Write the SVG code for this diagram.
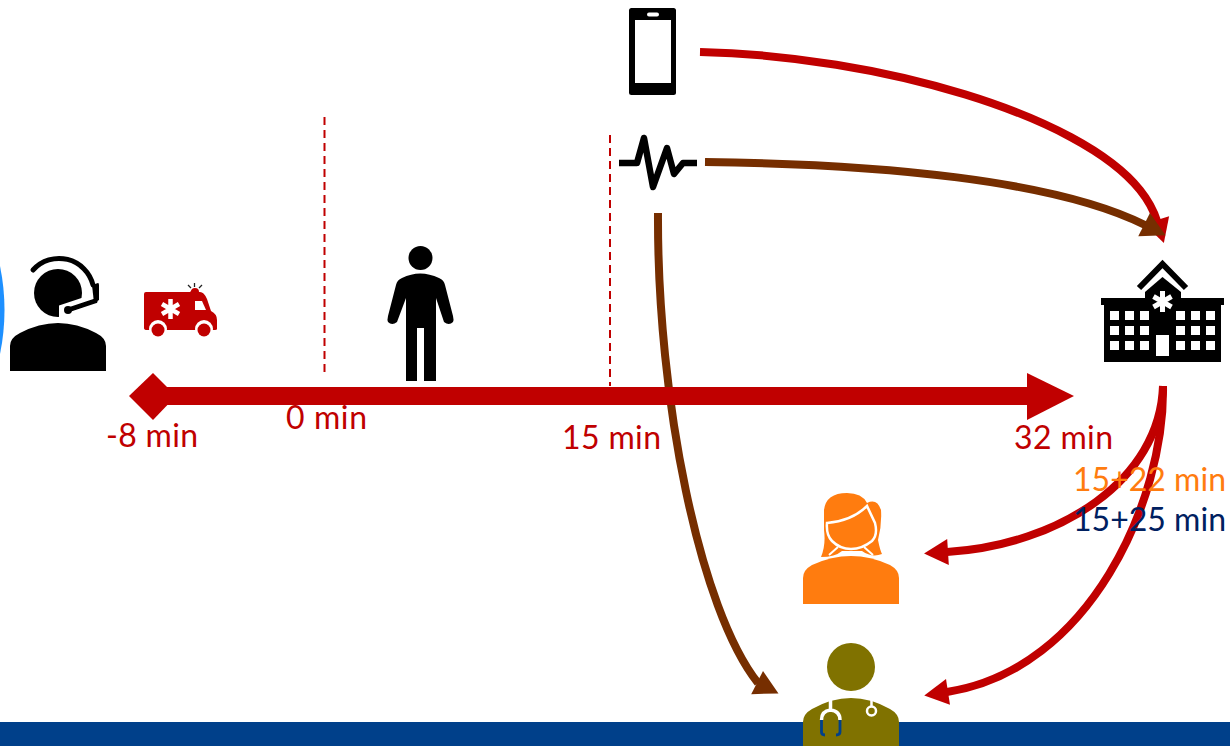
<svg xmlns="http://www.w3.org/2000/svg" width="1230" height="746" viewBox="0 0 1230 746">
<style>
.red{fill:#c00000}
.k{fill:#000}
.w{fill:#fff}
.c{fill:none;stroke-width:8}
.r{stroke:#c00000}
.b{stroke:#762e00}
.d{fill:none;stroke:#c00000;stroke-width:2;stroke-dasharray:8 5}
text{font-family:Lato,"Open Sans",sans-serif;font-size:32px}
.o{fill:#ff7c0f}
.n{fill:#002060}
.ol{fill:#807200}
</style>
<defs>
<marker id="hr" markerUnits="userSpaceOnUse" markerWidth="30" markerHeight="30" refX="1" refY="13" orient="auto" overflow="visible"><path d="M0 0L24 13L0 26z" fill="#c00000"/></marker>
<marker id="hb" markerUnits="userSpaceOnUse" markerWidth="30" markerHeight="30" refX="1" refY="13" orient="auto" overflow="visible"><path d="M0 0L24 13L0 26z" fill="#762e00"/></marker>
<marker id="hb2" markerUnits="userSpaceOnUse" markerWidth="30" markerHeight="30" refX="1" refY="13" orient="27" overflow="visible"><path d="M0 0L24 13L0 26z" fill="#762e00"/></marker>
</defs>
<rect id="footer-bar" x="0" y="722" width="1230" height="24" fill="#00408a"/>
<path id="edge-circle" d="M0 266Q9 310 0 354z" fill="#1e90ff"/>
<g id="connectors">
<path class="c r" marker-end="url(#hr)" d="M700 52C880 56 1080 115 1140 190Q1152 205 1157 221"/>
<path class="c b" marker-end="url(#hb)" d="M705 162C880 164 1055 180 1145 225"/>
<path class="c b" marker-end="url(#hb2)" d="M658 213C657 400 700 610 758 683"/>
<path class="c r" marker-end="url(#hr)" d="M1163 386C1160 480 1060 545 947 552"/>
<path class="c r" marker-end="url(#hr)" d="M1163 386C1165 500 1090 670 947 692"/>
</g>
<g id="timeline">
<rect class="red" x="160" y="387" width="868" height="18"/>
<path class="red" d="M153 373L176 396L153 420L129 396z"/>
<path class="red" d="M1027 373L1074 396L1027 420z"/>
<path class="d" d="M324.500 117V376"/>
<path class="d" d="M610 135V386"/>
</g>
<g id="agent">
<path class="k" d="M10 371V346Q10 338 20 333Q58 313 96 333Q106 338 106 346V371z"/>
<circle class="k" cx="58" cy="293" r="24"/>
<path class="w" d="M59 319V305.500L86 296.500V320z"/>
<path d="M33 270A35 35 0 0 1 93 285" fill="none" stroke="#000" stroke-width="5" stroke-linecap="round"/>
<path class="k" d="M92 285L98 283Q99 283 99 285V300L94 303z"/>
<path d="M68 310L95 301" stroke="#000" stroke-width="5" stroke-linecap="round" fill="none"/>
<circle class="k" cx="68" cy="310" r="4"/>
</g>
<g id="ambulance">
<path class="red" d="M146 292H190L192 290V292H200Q204 292 207 299L211 311Q217 314 217 320V329Q217 330 215 330H147Q144 330 144 328V294Q144 292 146 292z"/>
<circle class="red" cx="195" cy="292" r="4"/>
<path class="w" d="M195 301H202L206 310H195z"/>
<circle class="w" cx="158" cy="329" r="9"/>
<circle class="w" cx="204" cy="329" r="9"/>
<circle class="red" cx="158" cy="330" r="6.500"/>
<circle class="red" cx="204" cy="330" r="6.500"/>
<path d="M170.500 299V319M162 304L179 314M179 304L162 314" stroke="#fff" stroke-width="4.500"/>
<path d="M188 285L191 288M194.500 283V287M202 285L199 288" stroke="#222" stroke-width="1.300"/>
</g>
<g id="patient">
<circle class="k" cx="420.500" cy="258" r="12"/>
<path class="k" d="M406 381V328V298L397 322Q392 326 388 322Q387 320 388 316L396 285Q397 280 402 278Q420 269 439 278Q444 280 445 285L453 316Q454 320 453 322Q449 326 444 322L436 298V381H424V328H417V381z"/>
</g>
<g id="phone">
<rect class="k" x="629" y="8" width="47" height="87" rx="2.500"/>
<rect class="w" x="635" y="20" width="36" height="63"/>
<rect class="w" x="647" y="12.500" width="12" height="4" rx="2"/>
</g>
<g id="ecg">
<path d="M619 163H637L644 138L653 187L667 148L674 174L683 163H697" fill="none" stroke="#000" stroke-width="6.500" stroke-linejoin="round"/>
</g>
<g id="hospital">
<path d="M1139 288L1162.500 264L1186 288" fill="none" stroke="#000" stroke-width="6"/>
<path class="k" d="M1145 299V292L1162.500 277L1181 292V299z"/>
<rect class="k" x="1101" y="298" width="123" height="7"/>
<rect class="k" x="1104" y="304" width="117" height="58"/>
<g class="w">
<rect x="1110" y="311" width="9" height="9"/><rect x="1125" y="311" width="9" height="9"/><rect x="1140" y="311" width="9" height="9"/>
<rect x="1176" y="311" width="9" height="9"/><rect x="1191" y="311" width="9" height="9"/><rect x="1206" y="311" width="9" height="9"/>
<rect x="1110" y="326" width="9" height="9"/><rect x="1125" y="326" width="9" height="9"/><rect x="1140" y="326" width="9" height="9"/>
<rect x="1176" y="326" width="9" height="9"/><rect x="1191" y="326" width="9" height="9"/><rect x="1206" y="326" width="9" height="9"/>
<rect x="1110" y="341" width="9" height="9"/><rect x="1125" y="341" width="9" height="9"/><rect x="1140" y="341" width="9" height="9"/>
<rect x="1176" y="341" width="9" height="9"/><rect x="1191" y="341" width="9" height="9"/><rect x="1206" y="341" width="9" height="9"/>
<rect x="1156" y="335" width="13" height="21"/>
</g>
<path d="M1162.500 291V312M1153.500 296.500L1171.500 307M1171.500 296.500L1153.500 307" stroke="#fff" stroke-width="5"/>
</g>
<g id="nurse">
<path class="o" d="M803 604V578Q803 570 812 565Q851 547 890 565Q899 570 899 578V604z"/>
<path class="o" d="M821 557Q826 545 824 530V510Q826 493 847 493Q862 493 867 503Q877 498 881 510Q882 525 878 540Q880 550 882 554Q872 558 862 551L851 551L842 551Q835 557 821 557z"/>
<path d="M827 523Q852 521 867 506L875 523Q878 535 872 541Q862 549 851 549Q840 549 832 541Q826 535 827 523z" class="o" stroke="#fff" stroke-width="2.500"/>
<path d="M838 547L829 555M864 547L873 555" stroke="#fff" stroke-width="2"/>
</g>
<g id="doctor">
<circle class="ol" cx="851" cy="667" r="24"/>
<path class="ol" d="M803 746V722Q803 714 812 709Q851 687 890 709Q899 714 899 722V746z"/>
<path d="M830.500 700V710M821.500 720Q821.500 711 830.500 710Q840 711 840 720" fill="none" stroke="#fff" stroke-width="3.500"/>
<path d="M821.500 720V732Q821.500 735 825 735M840 720V732Q840 735 836 735" fill="none" stroke="#00408a" stroke-width="2.800"/>
<path d="M871.500 700V706" stroke="#fff" stroke-width="2.500"/>
<circle cx="871.500" cy="711" r="4.500" fill="none" stroke="#fff" stroke-width="2.500"/>
</g>
<g id="labels">
<text class="red" x="106" y="447" textLength="92">-8 min</text>
<text class="red" x="286" y="429" textLength="81">0 min</text>
<text class="red" x="562" y="449" textLength="99">15 min</text>
<text class="red" x="1014" y="449" textLength="99">32 min</text>
<text class="o" x="1073" y="491" textLength="153">15+22 min</text>
<text class="n" x="1073" y="531" textLength="153">15+25 min</text>
</g>
</svg>
